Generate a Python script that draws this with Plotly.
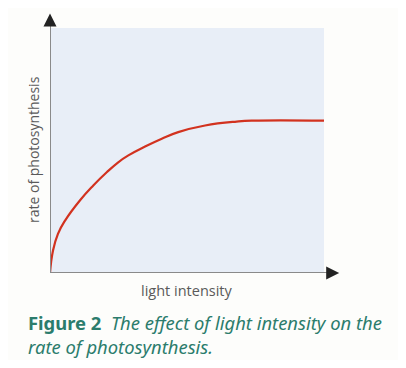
import plotly.graph_objects as go

# light intensity (arbitrary units, 0-100) and rate of photosynthesis (arbitrary units)
light_intensity = [0, 1.1, 2.9, 5.5, 10.9, 15.8, 20.7, 24.9, 28.6, 34.7, 40.8, 46.8,
                   56.6, 68.1, 74.1, 100]
rate = [0, 9.2, 16.0, 21.4, 29.6, 35.7, 41.1, 45.2, 48.0, 51.6, 54.8, 57.5,
        60.2, 61.8, 62.2, 62.2]

x_label = "light intensity"
y_label = "rate of photosynthesis"
caption_bold = "Figure 2"
caption_1 = "The effect of light intensity on the"
caption_2 = "rate of photosynthesis."

# page has an 8px body margin, so the figure is 390x352
W, H = 390, 352
PX0, PY0 = 8, 8                # page offset of the figure
PL, PR, PT, PB = 50, 340, 12, 273   # plot area in page pixels
L = PL - PX0
R = W - (PR - PX0)
T = PT - PY0
B = H - (PB - PY0)
PW, PH = PR - PL, PB - PT
XMAX = PW / 274 * 100
YMAX = PH / 245 * 100


def px(x):
    return (x - PL) / PW


def py(y):
    return (PB - y) / PH


fig = go.Figure()
fig.add_trace(go.Scatter(
    x=light_intensity, y=rate, mode="lines",
    line=dict(color="#d2321f", width=2.2, shape="spline", smoothing=1.3),
    hoverinfo="skip", showlegend=False, cliponaxis=False))

# shaded panel
fig.add_shape(type="rect", xref="x", yref="y", x0=0, x1=100, y0=0, y1=100,
              fillcolor="#e8eef7", line=dict(width=0), layer="below")
# axis lines
fig.add_shape(type="line", xref="x", yref="y", x0=0, x1=XMAX - 2, y0=0, y1=0,
              line=dict(color="#8a8a8a", width=2))
fig.add_shape(type="line", xref="x", yref="y", x0=0, x1=0, y0=0, y1=YMAX - 2.5,
              line=dict(color="#8a8a8a", width=2))
# arrowheads
fig.add_annotation(x=XMAX - 0.3, y=0, ax=XMAX - 3, ay=0, xref="x", yref="y",
                   axref="x", ayref="y", showarrow=True, arrowhead=2, arrowsize=1.3,
                   arrowwidth=2, arrowcolor="#222222", text="")
fig.add_annotation(x=0, y=YMAX - 0.6, ax=0, ay=YMAX - 4, xref="x", yref="y",
                   axref="x", ayref="y", showarrow=True, arrowhead=2, arrowsize=1.3,
                   arrowwidth=2, arrowcolor="#222222", text="")

# axis labels
fig.add_annotation(x=px(187), y=py(290), xref="paper", yref="paper", text=x_label,
                   showarrow=False, xanchor="center", yanchor="middle",
                   font=dict(family="Open Sans", size=14.5, color="#5a5a5a"))
fig.add_annotation(x=px(33), y=py(150), xref="paper", yref="paper", text=y_label,
                   showarrow=False, textangle=-90, xanchor="center", yanchor="middle",
                   font=dict(family="Open Sans", size=14, color="#5a5a5a"))

# caption (two lines in one text block)
fig.add_annotation(x=px(27), y=py(359.5), xref="paper", yref="paper",
                   xanchor="left", yanchor="bottom", align="left",
                   text="<b>" + caption_bold + "</b>  <i>" + caption_1 + "</i><br>"
                        + "<i>" + caption_2 + "</i>",
                   showarrow=False, borderpad=0,
                   font=dict(family="Noto Sans", size=18.4, color="#2b7c6c"))

fig.update_xaxes(range=[0, XMAX], visible=False, fixedrange=True)
fig.update_yaxes(range=[0, YMAX], visible=False, fixedrange=True)
fig.update_layout(width=W, height=H, margin=dict(l=L, r=R, t=T, b=B),
                  paper_bgcolor="#fdfdfb", plot_bgcolor="rgba(0,0,0,0)")

fig.write_html("out.html", config={"displayModeBar": False})
